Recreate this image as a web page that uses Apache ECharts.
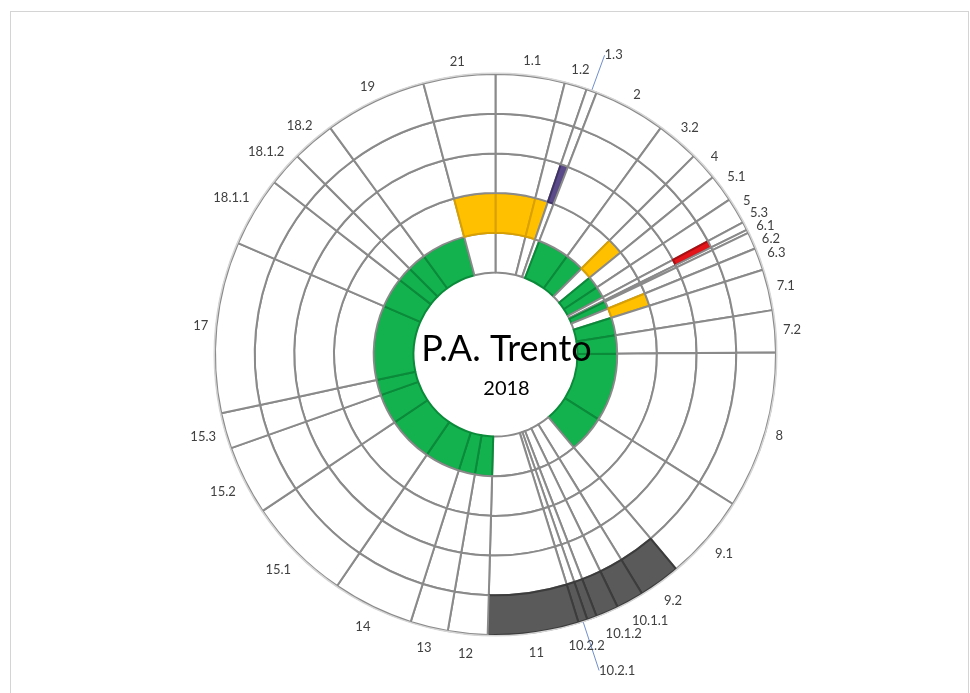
<!DOCTYPE html>
<html><head><meta charset="utf-8">
<script src="https://cdn.jsdelivr.net/npm/echarts@6.0.0/dist/echarts.min.js"></script>
<style>
html,body{margin:0;padding:0;background:#fff}
#c{width:970px;height:693px;position:absolute;left:0;top:0}
#frame{position:absolute;left:10px;top:11px;width:957px;height:700px;border:1px solid #d4d4d4;pointer-events:none}
</style>
</head><body><div id="c"></div><div id="frame"></div>
<script>
// Categories in clockwise order from 12 o'clock
const categories = ['1.1','1.2','1.3','2','3.2','4','5.1','5','5.3','6.1','6.2','6.3','7.1','7.2','8','9.1','9.2','10.1.1','10.1.2','10.2.2','10.2.1','11','12','13','14','15.1','15.2','15.3','17','18.1.1','18.1.2','18.2','19','21'];
// Angular weight of each category
const weights = [14.3,4.65,2.15,15,8.9,5.8,5.7,5.4,1.7,0.7,3.5,4.6,8.5,8.7,32.6,17.7,8.6,5.7,4.7,2.0,1.9,18.8,8.2,7.8,16.8,21.7,14.4,7.4,35.5,14.5,7.1,8.9,21.2,14.9];
// Ring (level 1 = innermost ... 5 = outermost) that is coloured for each category; 0 = none
const levels = [2,2,3,1,1,2,1,1,4,0,1,2,1,1,1,1,5,5,5,5,5,5,1,1,1,1,1,1,1,1,1,1,1,2];
const ringLevels = [1,2,3,4,5];
const leaderLabels = ['1.3','10.2.1'];
const titleText = 'P.A. Trento';
const subtitleText = '2018';

const levelColors = {1:'#13b24f',2:'#ffc000',3:'#5a4a8a',4:'#e3151b',5:'#5a5a5a'};
const levelBorders = {1:'#0b8a3a',2:'#d9a000',3:'#3f3366',4:'#a80e12',5:'#3c3c3c'};
const CX = 495.5, CY = 354.5, R0 = 82, R1 = 280.5;
const W = (R1 - R0) / ringLevels.length;
const LABEL_FONT = '13px Lato';

// ---- label placement: mid-angle of each slice, box kept just outside a circle, then de-overlapped
const total = weights.reduce((a,b)=>a+b,0);
const mids = []; { let acc = 0; weights.forEach(w => { mids.push((acc + w/2) / total * 360); acc += w; }); }
const mctx = document.createElement('canvas').getContext('2d'); mctx.font = LABEL_FONT;
const tw = categories.map(c => mctx.measureText(c).width);
const TH = 13, RC = 288;
function centerAt(a, i){
  const r = a*Math.PI/180, s = Math.sin(r), c = Math.cos(r);
  const d = RC + (tw[i]/2)*Math.abs(s) + (TH/2)*Math.abs(c) + 6*Math.max(0, -c);
  return [CX + d*s, CY - d*c];
}
const ang = mids.slice();
const active = categories.map(c => leaderLabels.indexOf(c) < 0);
for (let it = 0; it < 600; it++) {
  let moved = false;
  for (let i = 0; i < categories.length; i++) {
    if (!active[i]) continue;
    for (let k = 1; k <= 3; k++) {
      const j = (i + k) % categories.length;
      if (!active[j]) continue;
      const p = centerAt(ang[i], i), q = centerAt(ang[j], j);
      if (Math.abs(p[0]-q[0]) < (tw[i]+tw[j])/2 + 2 && Math.abs(p[1]-q[1]) < 12.5) {
        ang[i] -= 0.05; ang[j] += 0.05; moved = true;
      }
    }
  }
  if (!moved) break;
}
const labelPos = categories.map((c,i) => centerAt(ang[i], i));

const chart = echarts.init(document.getElementById('c'), null, {renderer:'canvas'});
const series = [];
ringLevels.forEach((lv, k) => {
  series.push({
    type:'pie', silent:true, startAngle:90, clockwise:true,
    center:[CX, CY], radius:[R0 + k*W, R0 + (k+1)*W],
    label:{show:false}, labelLine:{show:false}, animation:false,
    itemStyle:{borderColor:'#8a8a8a', borderWidth:2},
    data: categories.map((c,i)=>({
      name:c, value:weights[i],
      itemStyle:{color: levels[i]===lv ? levelColors[lv] : '#ffffff',
                 borderColor: levels[i]===lv ? levelBorders[lv] : '#8a8a8a'}
    }))
  });
});
// outer light rim
series.push({
  type:'pie', silent:true, startAngle:90, center:[CX,CY], radius:[R1, R1+1.5], animation:false,
  label:{show:false}, labelLine:{show:false},
  itemStyle:{color:'#d6d6d6', borderWidth:0},
  data:[{name:'rim', value:1}]
});
// category labels
series.push({
  type:'pie', silent:true, startAngle:90, clockwise:true, animation:false,
  center:[CX,CY], radius:[R1+1, R1+35],
  itemStyle:{color:'rgba(0,0,0,0)', borderWidth:0},
  label:{show:true, position:'inside', color:'#404040', fontSize:13, fontFamily:'Lato', rotate:0},
  labelLine:{show:false},
  labelLayout: function(p){
    const c = labelPos[p.dataIndex];
    return {x:c[0], y:c[1], align:'center', verticalAlign:'middle'};
  },
  data: categories.map((c,i)=>({name:c, value:weights[i],
    label:{show: active[i]}}))
});
// leader-line labels
series.push({
  type:'pie', silent:true, startAngle:90, clockwise:true, animation:false,
  center:[CX,CY], radius:[R0, R1], avoidLabelOverlap:false,
  itemStyle:{color:'rgba(0,0,0,0)', borderWidth:0},
  label:{show:false},
  labelLine:{show:false},
  data: categories.map((c,i)=>{
    const on = !active[i];
    return {name:c, value:weights[i],
      label:{show:on, position:'outside', color:'#404040', fontSize:13, fontFamily:'Lato', distanceToLabelLine:0},
      labelLine:{show:on, length: (c === '1.3' ? 38 : 52), length2:0, lineStyle:{color:'#6f8fcf', width:1}}};
  })
});

chart.setOption({
  backgroundColor:'#ffffff',
  animation:false,
  title:{
    text:titleText, subtext:subtitleText,
    left:CX+6, top:CY-28, textAlign:'center', itemGap:11,
    textStyle:{fontFamily:'Lato', fontSize:36, fontWeight:'normal', color:'#000'},
    subtextStyle:{fontFamily:'Lato', fontSize:20, color:'#000'}
  },
  series: series
});
</script>
</body></html>
